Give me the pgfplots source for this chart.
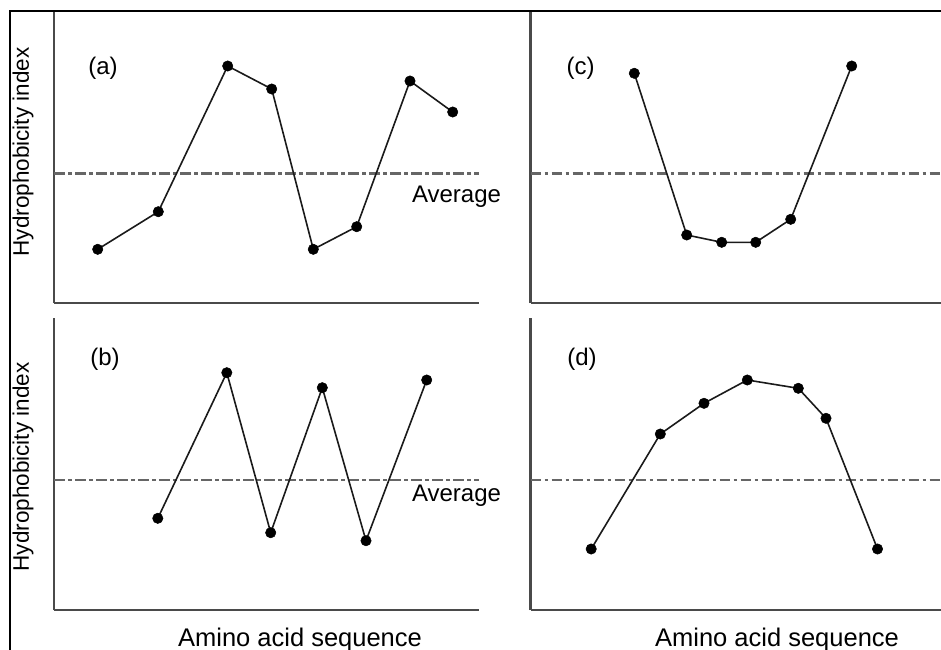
\documentclass[border=0pt]{standalone}
\usepackage{fontspec}
\setmainfont{Liberation Sans}
\usepackage{pgfplots}
\pgfplotsset{compat=1.18}
\definecolor{axgray}{HTML}{4A4A4A}
\definecolor{avggray}{HTML}{666666}
\definecolor{lnblack}{HTML}{1A1A1A}
\pgfplotsset{
  panel/.style={
    scale only axis, anchor=origin,
    xmin=0, ymin=0,
    axis x line=bottom, axis y line=left,
    axis line style={-, draw=axgray, line width=2.4pt},
    xtick=\empty, ytick=\empty,
    clip=false,
  },
  avg/.style={avggray, line width=2.4pt, no marks,
    dash pattern=on 10.5pt off 3.5pt on 3.5pt off 3.5pt},
  ser/.style={lnblack, line width=1.6pt, mark=*, mark size=5.2pt,
    mark options={solid, fill=black, draw=black, line width=0.5pt}},
}
\begin{document}
\begin{tikzpicture}
\fontsize{24}{28}\selectfont
% (a)
\begin{axis}[panel, at={(54pt,346pt)}, width=425pt, height=291pt, xmax=425, ymax=291]
\addplot[avg] coordinates {(0,129.7) (425,129.7)};
\addplot[ser] coordinates {(43.7,53.7) (104.3,91.3) (173.7,237) (217.7,214) (259.3,53.7) (302.7,76.3) (356,222) (398.7,191)};
\end{axis}
% (c)
\begin{axis}[panel, at={(530.5pt,346pt)}, width=420pt, height=291pt, xmax=420, ymax=291]
\addplot[avg] coordinates {(0,129.7) (420,129.7)};
\addplot[ser] coordinates {(103.8,229.7) (156.2,68) (191.2,60.7) (225.2,60.7) (260.2,83.7) (321.2,237)};
\end{axis}
% (b)
\begin{axis}[panel, at={(54pt,39pt)}, width=425pt, height=292pt, xmax=425, ymax=292]
\addplot[avg] coordinates {(0,130) (425,130)};
\addplot[ser] coordinates {(103.8,91.7) (172.8,237.3) (216.7,77.3) (268.3,222.3) (312,69.3) (372.7,230)};
\end{axis}
% (d)
\begin{axis}[panel, at={(530.5pt,39pt)}, width=420pt, height=292pt, xmax=420, ymax=292]
\addplot[avg] coordinates {(0,130) (420,130)};
\addplot[ser] coordinates {(60.7,61) (129.8,176) (173.5,206.7) (216.8,230) (267.8,221.7) (295.5,191.7) (347,61)};
\end{axis}
% texts
\node[inner sep=0pt] at (103pt,581pt) {(a)};
\node[inner sep=0pt] at (580.5pt,581pt) {(c)};
\node[inner sep=0pt] at (105pt,290pt) {(b)};
\node[inner sep=0pt] at (582pt,290pt) {(d)};
\node[inner sep=0pt] at (456.5pt,452pt) {Average};
\node[inner sep=0pt] at (456.5pt,153.5pt) {Average};
\node[inner sep=0pt, rotate=90, font=\fontsize{22.5}{26}\selectfont] at (23pt,497pt) {Hydrophobicity index};
\node[inner sep=0pt, rotate=90, font=\fontsize{22.5}{26}\selectfont] at (23pt,182pt) {Hydrophobicity index};
\node[inner sep=0pt, anchor=base, font=\fontsize{25.5}{30}\selectfont] at (300pt,2.5pt) {Amino acid sequence};
\node[inner sep=0pt, anchor=base, font=\fontsize{25.5}{30}\selectfont] at (777pt,2.5pt) {Amino acid sequence};
% outer frame
\draw[black, line width=2.4pt] (10pt,-5pt) -- (10pt,638pt) -- (950pt,638pt);
\pgfresetboundingbox
\path[use as bounding box] (0pt,0pt) rectangle (941pt,649pt);
\end{tikzpicture}
\end{document}
